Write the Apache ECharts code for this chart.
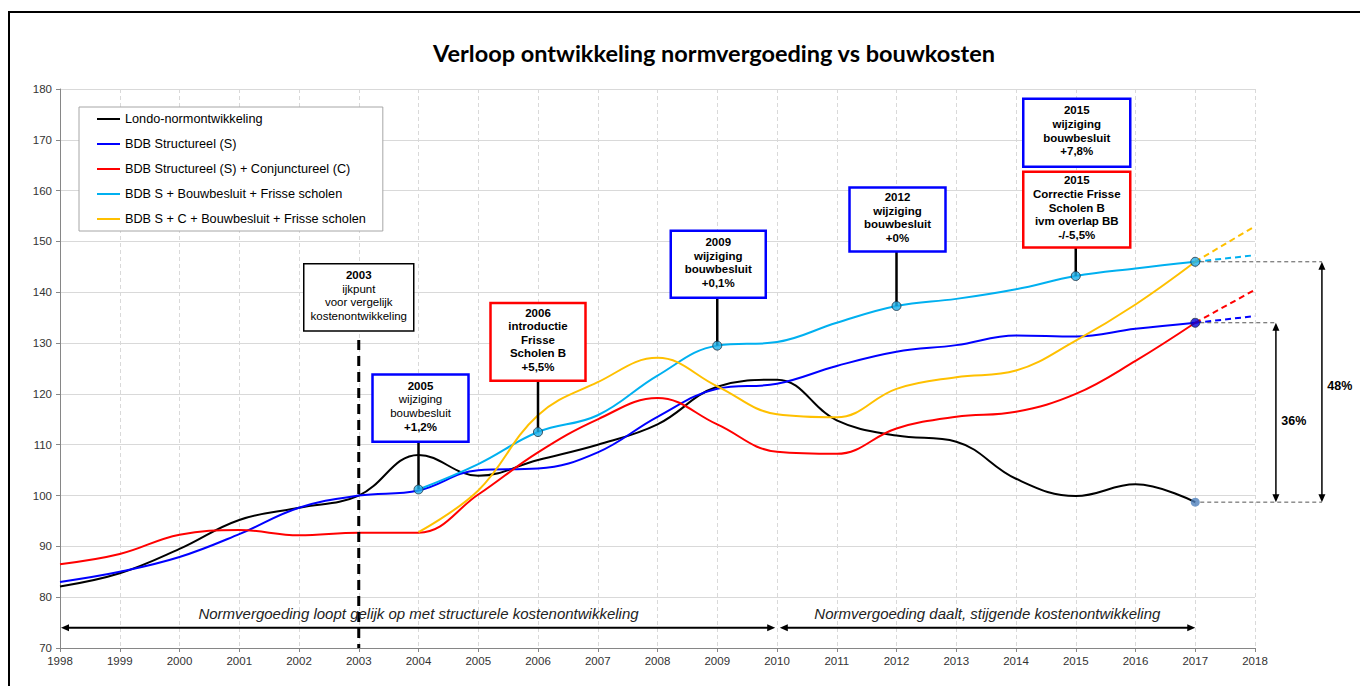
<!DOCTYPE html>
<html><head><meta charset="utf-8">
<script src="https://cdn.jsdelivr.net/npm/echarts@6/dist/echarts.min.js"></script>
<style>html,body{margin:0;padding:0;background:#fff}#c{width:1360px;height:686px}</style>
</head><body><div id="c"></div>
<script>
// ---------- DATA ----------
const years = [1998,1999,2000,2001,2002,2003,2004,2005,2006,2007,2008,2009,2010,2011,2012,2013,2014,2015,2016,2017];
const londo   = [82.1,84.7,89.5,95.2,97.6,100,108,103.9,107,110,114,121.4,122.8,114.8,111.8,110.6,103.3,99.9,102.2,98.7];
const bdbS    = [83,85,87.9,92.4,97.6,100,101,105,105.3,108.5,115.5,121,122,125.5,128.3,129.6,131.5,131.3,132.8,134];
const bdbSC   = [86.5,88.5,92.3,93.2,92.2,92.7,92.7,100.2,108.5,115,119.2,114,108.6,108.2,113.2,115.5,116.5,120,126.5,134];
const bdbSBF  = [null,null,null,null,null,null,101.2,106.2,112.5,115.8,123.6,129.5,130.2,134,137.3,138.7,140.6,143.2,144.7,146];
const bdbSCBF = [null,null,null,null,null,null,92.8,101,115.8,122.3,127.1,121.5,116,115.4,121,123.3,124.6,130.5,137.6,146];
// dashed projections 2017 -> 2018
const extYears   = [2017,2018];
const bdbSExt    = [134,135.3];
const bdbSCExt   = [134,140.5];
const bdbSBFExt  = [146,147.3];
const bdbSCBFExt = [146,153];
const seriesNames = ['Londo-normontwikkeling','BDB Structureel (S)','BDB Structureel (S) + Conjunctureel (C)','BDB S + Bouwbesluit + Frisse scholen','BDB S + C + Bouwbesluit + Frisse scholen'];
const title = 'Verloop ontwikkeling normvergoeding vs bouwkosten';
const yMin = 70, yMax = 180, yStep = 10;
const xMin = 1998, xMax = 2018;
// annotation boxes: anchor year, lines [text, bold]
const annotations = [
  {year:2003, lines:[['2003',1],['ijkpunt',0],['voor vergelijk',0],['kostenontwikkeling',0]], color:'#000'},
  {year:2004, lines:[['2005',1],['wijziging',0],['bouwbesluit',0],['+1,2%',1]], color:'#0000ff', anchor:bdbSBF},
  {year:2006, lines:[['2006',1],['introductie',1],['Frisse',1],['Scholen B',1],['+5,5%',1]], color:'#ff0000', anchor:bdbSBF},
  {year:2009, lines:[['2009',1],['wijziging',1],['bouwbesluit',1],['+0,1%',1]], color:'#0000ff', anchor:bdbSBF},
  {year:2012, lines:[['2012',1],['wijziging',1],['bouwbesluit',1],['+0%',1]], color:'#0000ff', anchor:bdbSBF},
  {year:2015, lines:[['2015',1],['wijziging',1],['bouwbesluit',1],['+7,8%',1]], color:'#0000ff'},
  {year:2015, lines:[['2015',1],['Correctie Frisse',1],['Scholen B',1],['ivm overlap BB',1],['-/-5,5%',1]], color:'#ff0000', anchor:bdbSBF}
];
const periodLabels = ['Normvergoeding loopt gelijk op met structurele kostenontwikkeling','Normvergoeding daalt, stijgende kostenontwikkeling'];
const periodYears = [[1998,2010],[2010,2017]];
const gapLabels = ['36%','48%'];

// ---------- LAYOUT (positions / styles) ----------
const boxLayout = [ // top/bottom in axis values, width px
  {top:145.6, bottom:132.4, w:110, lw:1.5},
  {top:123.8, bottom:110.6, w:96, lw:2.5, dx:2},
  {top:137.9, bottom:122.6, w:95, lw:2.5},
  {top:152.1, bottom:138.9, w:95, lw:2.5, dx:1},
  {top:160.6, bottom:148.0, w:96, lw:2.5, dx:1},
  {top:178.1, bottom:164.7, w:107, lw:2.5, dx:1},
  {top:163.7, bottom:148.8, w:107, lw:2.5, dx:1}
];
const colors = ['#000000','#0000ff','#ff0000','#00b0f0','#ffc000'];
const FONT = 'Liberation Sans';
const SMOOTH = 0.4;

function pairs(xs, ys){ const out=[]; xs.forEach((x,i)=>{ if(ys[i]!=null) out.push([x,ys[i]]); }); return out; }
const idx = y => years.indexOf(y);

const mainData = [londo,bdbS,bdbSC,bdbSBF,bdbSCBF];
const extData = [null,bdbSExt,bdbSCExt,bdbSBFExt,bdbSCBFExt];

const series = [];
mainData.forEach((arr,i)=>{
  series.push({name:seriesNames[i], type:'line', data:pairs(years,arr), smooth:SMOOTH, showSymbol:false, symbol:'none',
    lineStyle:{color:colors[i], width:2}, itemStyle:{color:colors[i]}, z:3+i*0.1});
});
extData.forEach((arr,i)=>{
  if(!arr) return;
  series.push({name:'ext'+i, type:'line', data:pairs(extYears,arr), showSymbol:false, symbol:'none',
    lineStyle:{color:colors[i], width:2, type:[6,4]}, z:3});
});
// markers
const markerDefs = [
  {arr:bdbSBF, year:2004, fill:'#1fb0e8'},
  {arr:bdbSBF, year:2006, fill:'#1fb0e8'},
  {arr:bdbSBF, year:2009, fill:'#1fb0e8'},
  {arr:bdbSBF, year:2012, fill:'#1fb0e8'},
  {arr:bdbSBF, year:2015, fill:'#1fb0e8'},
  {arr:bdbSBF, year:2017, fill:'#1fb0e8'},
  {arr:bdbS,   year:2017, fill:'#0000d8'},
  {arr:londo,  year:2017, fill:'#4f81bd', noBorder:true}
];
series.push({name:'markers', type:'scatter', z:10, symbolSize:9,
  data: markerDefs.map(m=>({value:[m.year, m.arr[idx(m.year)]], itemStyle:{color:m.fill, borderColor:m.noBorder?m.fill:'#203040', borderWidth:m.noBorder?0:1}}))
});

const option = {
  animation:false,
  backgroundColor:'#ffffff',
  title:{text:title, left:714, top:41, textAlign:'center', padding:0,
    textStyle:{fontFamily:'Lato', fontWeight:'bold', fontSize:23.5, color:'#000'}},
  grid:{left:60, right:105, top:89, bottom:38},
  legend:{data:seriesNames, orient:'vertical', left:79, top:107, icon:'rect', itemWidth:23, itemHeight:2,
    itemGap:11, padding:[5,17,5,18], borderColor:'#a6a6a6', borderWidth:1, backgroundColor:'#fff',
    textStyle:{fontFamily:FONT, fontSize:12.7, color:'#000', lineHeight:14}, selectedMode:false},
  xAxis:{type:'value', min:xMin, max:xMax, interval:1,
    axisLine:{show:true, onZero:false, lineStyle:{color:'#868686'}},
    axisTick:{show:true, length:4, lineStyle:{color:'#868686'}},
    axisLabel:{fontFamily:FONT, fontSize:11.5, color:'#333', margin:7, formatter:v=>String(v)},
    splitLine:{show:true, lineStyle:{color:'#d9d9d9', type:[4,3]}}},
  yAxis:{type:'value', min:yMin, max:yMax, interval:yStep,
    axisLine:{show:true, lineStyle:{color:'#868686'}},
    axisTick:{show:true, length:4, lineStyle:{color:'#868686'}},
    axisLabel:{fontFamily:FONT, fontSize:11.5, color:'#333', margin:8},
    splitLine:{show:true, lineStyle:{color:'#d9d9d9'}}},
  series
};

const chart = echarts.init(document.getElementById('c'), null, {renderer:'svg'});
chart.setOption(option);
const px = (x,y) => chart.convertToPixel({gridIndex:0}, [x,y]);

const els = [];
// outer frame
els.push({type:'rect', shape:{x:9, y:12, width:1400, height:700}, style:{fill:'none', stroke:'#000', lineWidth:2}, z:1, silent:true});

function head(x,y,dx,dy,L,W){
  const bx=x-dx*L, by=y-dy*L;
  return {type:'polygon', shape:{points:[[x,y],[bx-dy*W,by+dx*W],[bx+dy*W,by-dx*W]]}, style:{fill:'#000'}, z:8};
}
function dblArrow(x1,y1,x2,y2,lw){
  const len=Math.hypot(x2-x1,y2-y1), dx=(x2-x1)/len, dy=(y2-y1)/len;
  els.push({type:'line', shape:{x1:x1+dx*4,y1:y1+dy*4,x2:x2-dx*4,y2:y2-dy*4}, style:{stroke:'#000', lineWidth:lw}, z:8});
  els.push(head(x2,y2,dx,dy,8,3.5));
  els.push(head(x1,y1,-dx,-dy,8,3.5));
}

// 2003 dashed reference line
{
  const a = px(2003,130.6), b = px(2003,yMin);
  els.push({type:'line', shape:{x1:a[0],y1:a[1],x2:b[0],y2:b[1]}, style:{stroke:'#000', lineWidth:3, lineDash:[10,6]}, z:8});
}

// annotation boxes
annotations.forEach((an,i)=>{
  const L = boxLayout[i];
  const cx = px(an.year,0)[0] + (L.dx||0);
  const top = px(an.year,L.top)[1], bot = px(an.year,L.bottom)[1];
  if(an.anchor){
    const p = px(an.year, an.anchor[idx(an.year)]);
    els.push({type:'line', shape:{x1:p[0],y1:bot,x2:p[0],y2:p[1]}, style:{stroke:'#000', lineWidth:2.5}, z:7});
  }
  els.push({type:'rect', shape:{x:cx-L.w/2, y:top, width:L.w, height:bot-top}, style:{fill:'#fff', stroke:an.color, lineWidth:L.lw}, z:8});
  const lh = 13.6, n = an.lines.length;
  const c = (top+bot)/2 - 2;
  an.lines.forEach((ln,j)=>{
    els.push({type:'text', x:cx, y:c + (j-(n-1)/2)*lh, z:9,
      style:{text:ln[0], align:'center', verticalAlign:'middle', fill:'#000',
        font:(ln[1]?'bold ':'')+'11.5px "'+FONT+'"'}});
  });
});

// period arrows along the bottom
const arrowVal = 74, labelVal = 76.7;
const labelYears = [2004, 2013.52];
periodYears.forEach((pr,i)=>{
  const a = px(pr[0]+(i===1?0.03:0), arrowVal), b = px(pr[1]-(i===0?0.03:0), arrowVal);
  dblArrow(a[0]+1,a[1],b[0],b[1],2);
  const p = px(labelYears[i], labelVal);
  els.push({type:'text', x:p[0], y:p[1], z:9,
    style:{text:periodLabels[i], align:'center', verticalAlign:'middle', fill:'#222', font:'italic 15px "'+FONT+'"'}});
});

// right-side gap indicators
{
  const yTop1 = px(2017, bdbS[idx(2017)])[1];
  const yTop2 = px(2017, bdbSBF[idx(2017)])[1];
  const yBase = px(2017, londo[idx(2017)])[1];
  const x17 = px(2017,0)[0];
  const xA1 = px(2018.35,0)[0], xA2 = px(2019.12,0)[0];
  const dash = {stroke:'#555', lineWidth:1, lineDash:[4,3]};
  els.push({type:'line', shape:{x1:x17+5,y1:yTop2,x2:xA2,y2:yTop2}, style:dash, z:6});
  els.push({type:'line', shape:{x1:x17+5,y1:yTop1,x2:xA1,y2:yTop1}, style:dash, z:6});
  els.push({type:'line', shape:{x1:x17+5,y1:yBase,x2:xA2,y2:yBase}, style:dash, z:6});
  dblArrow(xA1, yTop1, xA1, yBase, 1.5);
  dblArrow(xA2, yTop2, xA2, yBase, 1.5);
  els.push({type:'text', x:px(2018.65,0)[0], y:px(2017,114.7)[1], z:9,
    style:{text:gapLabels[0], align:'center', verticalAlign:'middle', fill:'#000', font:'bold 12.5px "'+FONT+'"'}});
  els.push({type:'text', x:px(2019.42,0)[0], y:px(2017,121.6)[1], z:9,
    style:{text:gapLabels[1], align:'center', verticalAlign:'middle', fill:'#000', font:'bold 12.5px "'+FONT+'"'}});
}

chart.setOption({graphic:{elements:els}});
</script>
</body></html>
